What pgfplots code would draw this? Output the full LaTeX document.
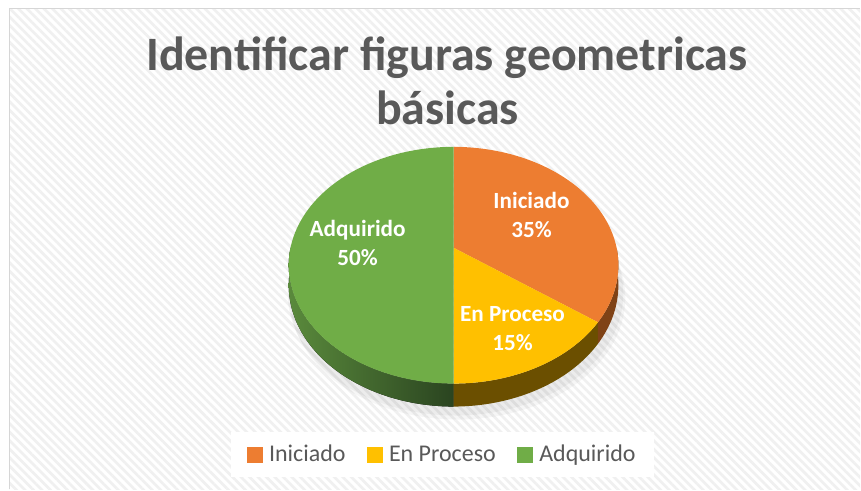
\documentclass[border=0pt]{standalone}
\usepackage{fontspec}
\setmainfont{Carlito}
\usepackage{pgfplots}
\pgfplotsset{compat=1.18}
\usepackage{pgfplotstable}
\usepgfplotslibrary{fillbetween}
\usetikzlibrary{patterns.meta}

\definecolor{cOr}{HTML}{ED7D31}
\definecolor{cYe}{HTML}{FFC000}
\definecolor{cGr}{HTML}{70AD47}
\definecolor{sOr}{HTML}{7F4216}
\definecolor{sYe}{HTML}{6B4F00}
\definecolor{sGrL}{HTML}{5A8A3C}
\definecolor{sGrD}{HTML}{2A4420}
\definecolor{tgray}{HTML}{595959}

\pgfplotstableread{
label value
Iniciado 35
{En Proceso} 15
Adquirido 50
}\piedata

\begin{document}
\begin{tikzpicture}[declare function={
  PX(\a)=454+163.2*cos(\a)/(1+0.1477*sin(\a));
  PY(\a)=248-115.9*sin(\a)/(1+0.1477*sin(\a));
  PB(\a)=PY(\a)+19.6/(1+0.1477*sin(\a));
  SX(\a)=456+168*cos(\a);
  SY(\a)=292-122*sin(\a);
}]
\pgfplotstablegetelem{0}{value}\of\piedata \pgfmathsetmacro\vA{\pgfplotsretval}
\pgfplotstablegetelem{1}{value}\of\piedata \pgfmathsetmacro\vB{\pgfplotsretval}
\pgfplotstablegetelem{2}{value}\of\piedata \pgfmathsetmacro\vC{\pgfplotsretval}
\pgfmathsetmacro\aA{90}
\pgfmathsetmacro\aB{90-3.6*\vA}
\pgfmathsetmacro\aC{\aB-3.6*\vB}
\pgfmathsetmacro\aD{\aC-3.6*\vC}
\begin{axis}[
  set layers,
  scale only axis, width=645.75pt, height=367.5pt,
  xmin=0, xmax=861, ymin=0, ymax=490, y dir=reverse,
  hide axis, clip=false,
  legend style={at={(axis cs:443,455)}, anchor=center, draw=none, fill=white,
    font=\fontsize{18}{20}\selectfont, text=tgray, legend columns=-1,
    inner xsep=12pt, inner ysep=8pt,
    /tikz/every odd column/.append style={column sep=3pt},
    /tikz/every even column/.append style={column sep=14pt}},
  legend cell align=left,
]
% background
\begin{pgfonlayer}{axis background}
\fill[white] (axis cs:0,0) rectangle (axis cs:861,490);
\fill[pattern={Lines[angle=-45,distance=4.5pt,line width=2pt]}, pattern color=black!6]
  (axis cs:9.5,8.5) rectangle (axis cs:861,490);
\draw[color=black!16, line width=1.3pt] (axis cs:9.5,490) -- (axis cs:9.5,8.5) -- (axis cs:861,8.5);
\end{pgfonlayer}

% shadow
\addplot[on layer=axis background, fill=black, fill opacity=0.035, draw=none, domain=0:360, samples=90, variable=\t, forget plot] ({SX(\t)+2},{SY(\t)+6});
\addplot[on layer=axis background, fill=black, fill opacity=0.04, draw=none, domain=0:360, samples=90, variable=\t, forget plot] ({SX(\t)},{SY(\t)+2});

% sides
\addplot[name path=gT, draw=none, domain=-180:\aC, samples=60, variable=\t, forget plot] ({PX(\t)},{PY(\t)});
\addplot[name path=gB, draw=none, domain=-180:\aC, samples=60, variable=\t, forget plot] ({PX(\t)},{PB(\t)});
\addplot[left color=sGrL, right color=sGrD, forget plot] fill between[of=gT and gB];
\addplot[name path=yT, draw=none, domain=\aC:\aB, samples=40, variable=\t, forget plot] ({PX(\t)},{PY(\t)});
\addplot[name path=yB, draw=none, domain=\aC:\aB, samples=40, variable=\t, forget plot] ({PX(\t)},{PB(\t)});
\addplot[fill=sYe, forget plot] fill between[of=yT and yB];
\addplot[name path=oT, draw=none, domain=\aB:0, samples=30, variable=\t, forget plot] ({PX(\t)},{PY(\t)});
\addplot[name path=oB, draw=none, domain=\aB:0, samples=30, variable=\t, forget plot] ({PX(\t)},{PB(\t)});
\addplot[fill=sOr, forget plot] fill between[of=oT and oB];

% top faces
\addplot[fill=cOr, draw=none, domain=\aB:\aA, samples=80, variable=\t, forget plot] ({PX(\t)},{PY(\t)}) -- (axis cs:454,248) -- cycle;
\addplot[fill=cYe, draw=none, domain=\aC:\aB, samples=40, variable=\t, forget plot] ({PX(\t)},{PY(\t)}) -- (axis cs:454,248) -- cycle;
\addplot[fill=cGr, draw=none, domain=\aD:\aC, samples=100, variable=\t, forget plot] ({PX(\t)},{PY(\t)}) -- (axis cs:454,248) -- cycle;

% labels
\node[white, font=\bfseries\fontsize{17.4}{21.75}\selectfont, align=center] at (axis cs:532,215) {Iniciado\\35\%};
\node[white, font=\bfseries\fontsize{17.4}{21.75}\selectfont, align=center] at (axis cs:513,329) {En Proceso\\15\%};
\node[white, font=\bfseries\fontsize{17.4}{21.75}\selectfont, align=center] at (axis cs:358,243) {Adquirido\\50\%};

% title
\node[tgray, font=\bfseries\fontsize{36}{40}\selectfont, anchor=base] at (axis cs:447.5,71) {Identificar figuras geometricas};
\node[tgray, font=\bfseries\fontsize{36}{40}\selectfont, anchor=base] at (axis cs:448,125) {básicas};

% legend
\addlegendimage{legend image code/.code={\fill[cOr] (0pt,-5.6pt) rectangle (11.25pt,5.6pt);}}
\addlegendentry{Iniciado}
\addlegendimage{legend image code/.code={\fill[cYe] (0pt,-5.6pt) rectangle (11.25pt,5.6pt);}}
\addlegendentry{En Proceso}
\addlegendimage{legend image code/.code={\fill[cGr] (0pt,-5.6pt) rectangle (11.25pt,5.6pt);}}
\addlegendentry{Adquirido}
\end{axis}
\end{tikzpicture}
\end{document}
